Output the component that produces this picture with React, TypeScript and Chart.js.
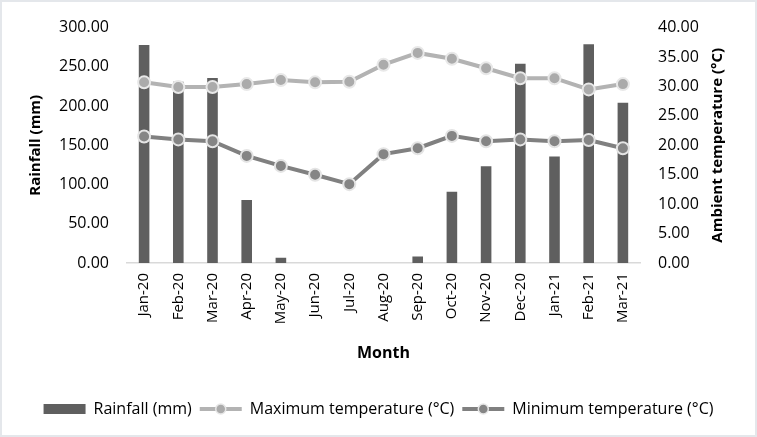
import React, { useEffect, useRef } from "react";
import { Chart, registerables } from "chart.js";

Chart.register(...registerables);

const months = ["Jan-20","Feb-20","Mar-20","Apr-20","May-20","Jun-20","Jul-20","Aug-20","Sep-20","Oct-20","Nov-20","Dec-20","Jan-21","Feb-21","Mar-21"];
const rainfall = [277.7, 231, 235.8, 80.3, 6.7, 0, 0, 0, 8.4, 90.8, 123.2, 253.8, 135.8, 278.7, 204.3];
const maxTemp = [30.7, 29.9, 29.9, 30.4, 31.1, 30.7, 30.8, 33.7, 35.7, 34.7, 33.1, 31.4, 31.4, 29.5, 30.4];
const minTemp = [21.5, 21.0, 20.7, 18.2, 16.5, 15.0, 13.4, 18.5, 19.5, 21.6, 20.7, 21.0, 20.7, 20.9, 19.5];
const rightTitle = "Ambient temperature (°C)";

const FONT = "'Open Sans', 'DejaVu Sans', sans-serif";
const BAR = "#5f5f5f";
const MAXC = "#b3b3b3";
const MAXP = "#ababab";
const MINC = "#808080";
const MINP = "#858585";

const frame = {
  id: "frame",
  beforeDraw(chart: any) {
    const { ctx, width, height } = chart;
    ctx.save();
    ctx.fillStyle = "#ffffff";
    ctx.fillRect(0, 0, width, height);
    ctx.strokeStyle = "#e4e7eb";
    ctx.lineWidth = 2;
    ctx.strokeRect(1, 1, width - 2, height - 2);
    ctx.restore();
  },
};

const rightAxisTitle = {
  id: "rightAxisTitle",
  afterDraw(chart: any) {
    const ctx = chart.ctx;
    const area = chart.chartArea;
    ctx.save();
    ctx.translate(718, (area.top + area.bottom) / 2);
    ctx.rotate(-Math.PI / 2);
    ctx.font = `bold 15px ${FONT}`;
    ctx.fillStyle = "#000";
    ctx.textAlign = "center";
    ctx.textBaseline = "middle";
    ctx.fillText(rightTitle, 0, 0);
    ctx.restore();
  },
};

const legendMarkers = {
  id: "legendMarkers",
  afterDraw(chart: any) {
    const lg = chart.legend;
    if (!lg || !lg.legendHitBoxes) return;
    const ctx = chart.ctx;
    lg.legendHitBoxes.forEach((hb: any, i: number) => {
      if (i === 0) return;
      const color = i === 1 ? MAXC : MINC;
      const pcol = i === 1 ? MAXP : MINP;
      const y = hb.top + hb.height / 2;
      const x0 = hb.left;
      const w = 42;
      ctx.save();
      ctx.strokeStyle = color;
      ctx.lineWidth = 4;
      ctx.beginPath();
      ctx.moveTo(x0, y);
      ctx.lineTo(x0 + w, y);
      ctx.stroke();
      ctx.fillStyle = pcol;
      ctx.strokeStyle = "#e6e6e6";
      ctx.lineWidth = 1.5;
      ctx.beginPath();
      ctx.arc(x0 + w / 2, y, 5, 0, Math.PI * 2);
      ctx.fill();
      ctx.stroke();
      ctx.restore();
    });
  },
};

export default function App() {
  const ref = useRef<HTMLCanvasElement | null>(null);
  useEffect(() => {
    if (!ref.current) return;
    const chart = new Chart(ref.current, {
      type: "bar",
      data: {
        labels: months,
        datasets: [
          {
            type: "line",
            label: "Maximum temperature (°C)",
            data: maxTemp,
            yAxisID: "y1",
            borderColor: MAXC,
            backgroundColor: MAXP,
            borderWidth: 4,
            pointRadius: 6,
            pointBackgroundColor: MAXP,
            pointBorderColor: "#e8e8e8",
            pointBorderWidth: 2,
            order: 1,
          } as any,
          {
            type: "line",
            label: "Minimum temperature (°C)",
            data: minTemp,
            yAxisID: "y1",
            borderColor: MINC,
            backgroundColor: MINP,
            borderWidth: 4,
            pointRadius: 6,
            pointBackgroundColor: MINP,
            pointBorderColor: "#e4e4e4",
            pointBorderWidth: 2,
            order: 2,
          } as any,
          {
            type: "bar",
            label: "Rainfall (mm)",
            data: rainfall,
            yAxisID: "y",
            backgroundColor: BAR,
            borderWidth: 0,
            barPercentage: 0.62,
            categoryPercentage: 0.5,
            order: 3,
          },
        ],
      },
      options: {
        animation: false,
        responsive: false,
        maintainAspectRatio: false,
        layout: { padding: { top: 24, bottom: 10, left: 0, right: 0 } },
        plugins: {
          tooltip: { enabled: false },
          legend: {
            position: "bottom",
            labels: {
              font: { family: FONT, size: 16 },
              color: "#000",
              boxWidth: 42,
              boxHeight: 10,
              padding: 8,
              generateLabels: (ch: any) => {
                const ds = ch.data.datasets;
                const idx = [2, 0, 1];
                return idx.map((i) => ({
                  text: ds[i].label,
                  fillStyle: i === 2 ? BAR : "rgba(0,0,0,0)",
                  strokeStyle: "rgba(0,0,0,0)",
                  lineWidth: 0,
                  hidden: false,
                  datasetIndex: i,
                  fontColor: "#000",
                }));
              },
            },
          },
        },
        scales: {
          x: {
            grid: { display: false, drawTicks: false },
            border: { display: true, color: "#d9d9d9", width: 1.5 },
            ticks: {
              font: { family: FONT, size: 15 },
              color: "#000",
              maxRotation: 90,
              minRotation: 90,
              padding: 10,
              autoSkip: false,
            },
            title: {
              display: true,
              text: "Month",
              font: { family: FONT, size: 16, weight: "bold" },
              color: "#000",
              padding: { top: 12, bottom: 30 },
            },
            afterFit: (s: any) => { s.height = 130; },
          },
          y: {
            position: "left",
            min: 0,
            max: 300,
            grid: { display: false, drawTicks: false },
            border: { display: false },
            ticks: {
              stepSize: 50,
              font: { family: FONT, size: 16 },
              color: "#000",
              padding: 18,
              callback: (v: any) => Number(v).toFixed(2),
            },
            title: {
              display: true,
              text: "Rainfall (mm)",
              font: { family: FONT, size: 15, weight: "bold" },
              color: "#000",
              padding: { top: 27, bottom: 6 },
            },
            afterFit: (s: any) => { s.width = 127; },
          },
          y1: {
            position: "right",
            min: 0,
            max: 40,
            grid: { display: false, drawTicks: false },
            border: { display: false },
            ticks: {
              stepSize: 5,
              font: { family: FONT, size: 16 },
              color: "#000",
              padding: 18,
              callback: (v: any) => Number(v).toFixed(2),
            },
            title: { display: false },
            afterFit: (s: any) => { s.width = 117; },
          },
        },
      },
      plugins: [frame, legendMarkers, rightAxisTitle],
    });
    return () => chart.destroy();
  }, []);
  return (
    <div style={{ position: "fixed", left: 0, top: 0, width: 757, height: 437 }}>
      <canvas ref={ref} width={757} height={437} style={{ width: 757, height: 437, display: "block" }} />
    </div>
  );
}
